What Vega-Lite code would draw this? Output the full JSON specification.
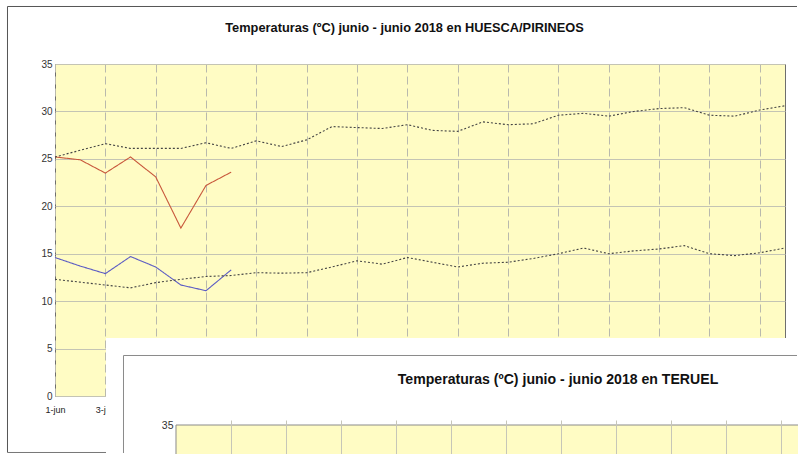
{
  "$schema": "https://vega.github.io/schema/vega-lite/v6.json",
  "background": "white",
  "padding": {"left": 6, "top": 5, "right": 0, "bottom": 0},
  "bounds": "flush",
  "spacing": 0,
  "config": {"font": "Liberation Sans"},
  "vconcat": [
    {
      "width": 730,
      "height": 332,
      "view": {"fill": "#fffcc4", "stroke": "#6e6e6e"},
      "title": {"text": "Temperaturas (ºC) junio - junio 2018 en HUESCA/PIRINEOS", "fontSize": 12.8, "fontWeight": "bold", "color": "#111", "anchor": "middle", "frame": "group", "dx": -15.5, "offset": -38.5, "baseline": "alphabetic"},
      "layer": [
        {
          "data": {"values": [
            {"d": 1, "s": "Máx 2018", "t": 25.2}, {"d": 2, "s": "Máx 2018", "t": 24.9}, {"d": 3, "s": "Máx 2018", "t": 23.5}, {"d": 4, "s": "Máx 2018", "t": 25.2},
            {"d": 5, "s": "Máx 2018", "t": 23.1}, {"d": 6, "s": "Máx 2018", "t": 17.7}, {"d": 7, "s": "Máx 2018", "t": 22.2}, {"d": 8, "s": "Máx 2018", "t": 23.6},
            {"d": 1, "s": "Mín 2018", "t": 14.6}, {"d": 2, "s": "Mín 2018", "t": 13.7}, {"d": 3, "s": "Mín 2018", "t": 12.9}, {"d": 4, "s": "Mín 2018", "t": 14.7},
            {"d": 5, "s": "Mín 2018", "t": 13.6}, {"d": 6, "s": "Mín 2018", "t": 11.7}, {"d": 7, "s": "Mín 2018", "t": 11.1}, {"d": 8, "s": "Mín 2018", "t": 13.3},
            {"d": 1, "s": "Máx media", "t": 25.2}, {"d": 2, "s": "Máx media", "t": 25.9}, {"d": 3, "s": "Máx media", "t": 26.6}, {"d": 4, "s": "Máx media", "t": 26.1},
            {"d": 5, "s": "Máx media", "t": 26.1}, {"d": 6, "s": "Máx media", "t": 26.1}, {"d": 7, "s": "Máx media", "t": 26.7}, {"d": 8, "s": "Máx media", "t": 26.1},
            {"d": 9, "s": "Máx media", "t": 26.9}, {"d": 10, "s": "Máx media", "t": 26.3}, {"d": 11, "s": "Máx media", "t": 27.0}, {"d": 12, "s": "Máx media", "t": 28.4},
            {"d": 13, "s": "Máx media", "t": 28.3}, {"d": 14, "s": "Máx media", "t": 28.2}, {"d": 15, "s": "Máx media", "t": 28.6}, {"d": 16, "s": "Máx media", "t": 28.0},
            {"d": 17, "s": "Máx media", "t": 27.9}, {"d": 18, "s": "Máx media", "t": 28.9}, {"d": 19, "s": "Máx media", "t": 28.6}, {"d": 20, "s": "Máx media", "t": 28.7},
            {"d": 21, "s": "Máx media", "t": 29.6}, {"d": 22, "s": "Máx media", "t": 29.8}, {"d": 23, "s": "Máx media", "t": 29.5}, {"d": 24, "s": "Máx media", "t": 30.0},
            {"d": 25, "s": "Máx media", "t": 30.3}, {"d": 26, "s": "Máx media", "t": 30.4}, {"d": 27, "s": "Máx media", "t": 29.6}, {"d": 28, "s": "Máx media", "t": 29.5},
            {"d": 29, "s": "Máx media", "t": 30.15}, {"d": 30, "s": "Máx media", "t": 30.6},
            {"d": 1, "s": "Mín media", "t": 12.3}, {"d": 2, "s": "Mín media", "t": 12.0}, {"d": 3, "s": "Mín media", "t": 11.7}, {"d": 4, "s": "Mín media", "t": 11.4},
            {"d": 5, "s": "Mín media", "t": 11.95}, {"d": 6, "s": "Mín media", "t": 12.3}, {"d": 7, "s": "Mín media", "t": 12.6}, {"d": 8, "s": "Mín media", "t": 12.7},
            {"d": 9, "s": "Mín media", "t": 13.0}, {"d": 10, "s": "Mín media", "t": 12.95}, {"d": 11, "s": "Mín media", "t": 13.0}, {"d": 12, "s": "Mín media", "t": 13.6},
            {"d": 13, "s": "Mín media", "t": 14.25}, {"d": 14, "s": "Mín media", "t": 13.9}, {"d": 15, "s": "Mín media", "t": 14.6}, {"d": 16, "s": "Mín media", "t": 14.1},
            {"d": 17, "s": "Mín media", "t": 13.6}, {"d": 18, "s": "Mín media", "t": 14.0}, {"d": 19, "s": "Mín media", "t": 14.1}, {"d": 20, "s": "Mín media", "t": 14.5},
            {"d": 21, "s": "Mín media", "t": 15.0}, {"d": 22, "s": "Mín media", "t": 15.6}, {"d": 23, "s": "Mín media", "t": 15.0}, {"d": 24, "s": "Mín media", "t": 15.3},
            {"d": 25, "s": "Mín media", "t": 15.5}, {"d": 26, "s": "Mín media", "t": 15.85}, {"d": 27, "s": "Mín media", "t": 15.0}, {"d": 28, "s": "Mín media", "t": 14.8},
            {"d": 29, "s": "Mín media", "t": 15.1}, {"d": 30, "s": "Mín media", "t": 15.6}
          ]},
          "mark": {"type": "line", "strokeWidth": 1.1},
          "encoding": {
            "x": {"field": "d", "type": "quantitative", "title": null,
              "scale": {"domain": [1, 30], "nice": false, "zero": false},
              "axis": {"values": [1, 3, 5, 7, 9, 11, 13, 15, 17, 19, 21, 23, 25, 27, 29], "labelExpr": "datum.value + '-jun'", "grid": true, "gridColor": "#b9b9ad", "gridDash": [8, 4], "domain": false, "ticks": false, "labelFontSize": 9, "labelColor": "#222", "labelPadding": 9, "labelFlush": false, "labelOverlap": false, "title": null}},
            "y": {"field": "t", "type": "quantitative", "title": null,
              "scale": {"domain": [0, 35], "nice": false, "zero": false},
              "axis": {"values": [0, 5, 10, 15, 20, 25, 30, 35], "grid": true, "gridColor": "#c4c4b4", "domain": false, "ticks": false, "labelFontSize": 10, "labelColor": "#333", "labelPadding": 3, "title": null}},
            "color": {"field": "s", "type": "nominal", "legend": null,
              "scale": {"domain": ["Máx 2018", "Mín 2018", "Máx media", "Mín media"], "range": ["#c8583c", "#5c5cc4", "#444444", "#444444"]}},
            "strokeDash": {"field": "s", "type": "nominal", "legend": null,
              "scale": {"domain": ["Máx 2018", "Mín 2018", "Máx media", "Mín media"], "range": [[1, 0], [1, 0], [2, 2], [2, 2]]}}
          }
        },
        {
          "data": {"values": [{}]},
          "mark": {"type": "rule", "color": "#555555", "strokeWidth": 1},
          "encoding": {"x": {"datum": -0.887, "title": null}, "x2": {"datum": 30.4767}, "y": {"datum": 41.0618, "title": null}}
        },
        {
          "data": {"values": [{}]},
          "mark": {"type": "rule", "color": "#555555", "strokeWidth": 1},
          "encoding": {"x": {"datum": -0.887, "title": null}, "y": {"datum": 41.0618, "title": null}, "y2": {"datum": -5.9563}}
        },
        {
          "data": {"values": [{}]},
          "mark": {"type": "rule", "color": "#777777", "strokeWidth": 1},
          "encoding": {"x": {"datum": -0.887, "title": null}, "x2": {"datum": 5}, "y": {"datum": -5.9563, "title": null}}
        }
      ]
    },
    {
      "bounds": "flush",
      "spacing": 0,
      "hconcat": [
        {
          "width": 51,
          "height": 1,
          "view": {"stroke": null, "fill": null},
          "data": {"values": []},
          "mark": "point"
        },
        {
          "width": 692,
          "height": 58,
          "view": {"fill": "white", "stroke": null},
          "title": {"text": "Temperaturas (ºC) junio - junio 2018 en TERUEL", "fontSize": 14.1, "fontWeight": "bold", "color": "#111", "anchor": "middle", "frame": "group", "dx": 106, "offset": -60.5, "baseline": "alphabetic"},
          "layer": [
            {
              "data": {"values": [{}]},
              "mark": {"type": "rect", "fill": "white", "strokeWidth": 0},
              "encoding": {
                "x": {"datum": -1.54545, "type": "quantitative", "title": null,
                  "scale": {"domain": [-1.54545, 23.61818], "nice": false, "zero": false},
                  "axis": {"orient": "bottom", "values": [3, 5, 7, 9, 11, 13, 15, 17, 19, 21, 23], "grid": false, "domain": false, "labels": false, "ticks": true, "tickSize": -34, "tickColor": "#c6c6b8", "zindex": 1, "title": null}},
                "x2": {"datum": 23.61818},
                "y": {"datum": 43.3977, "type": "quantitative", "title": null,
                  "scale": {"domain": [32.2008, 37.7992], "nice": false, "zero": false},
                  "axis": {"orient": "left", "offset": -70, "values": [35], "grid": false, "domain": false, "ticks": false, "labelPadding": 3, "labelFontSize": 10.5, "labelColor": "#333", "zindex": 1, "title": null}},
                "y2": {"datum": 32.2008}
              }
            },
            {
              "data": {"values": [{}]},
              "mark": {"type": "rect", "fill": "#fffcc4", "stroke": "#8a8a8a", "strokeWidth": 1, "clip": true},
              "encoding": {
                "x": {"datum": 1, "title": null},
                "x2": {"datum": 30},
                "y": {"datum": 35, "title": null},
                "y2": {"datum": 0}
              }
            },
            {
              "data": {"values": [{}]},
              "mark": {"type": "rule", "color": "#8a8a8a", "strokeWidth": 1},
              "encoding": {"x": {"datum": -0.90909, "title": null}, "x2": {"datum": 23.5818}, "y": {"datum": 41.7085, "title": null}}
            },
            {
              "data": {"values": [{}]},
              "mark": {"type": "rule", "color": "#8a8a8a", "strokeWidth": 1},
              "encoding": {"x": {"datum": -0.90909, "title": null}, "y": {"datum": 41.7085, "title": null}, "y2": {"datum": 32.2973}}
            }
          ]
        }
      ]
    }
  ]
}
